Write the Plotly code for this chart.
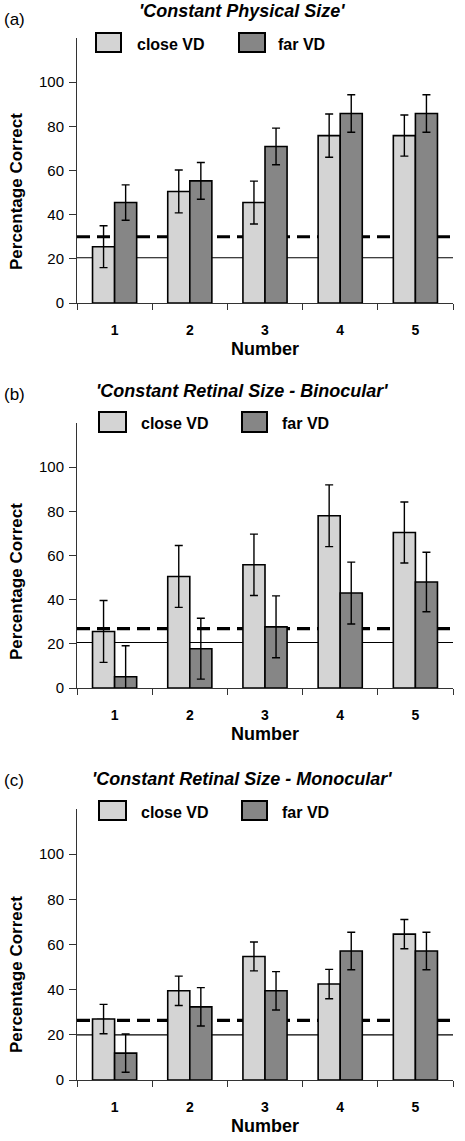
import plotly.graph_objects as go

# ---------------- data ----------------
numbers = ["1", "2", "3", "4", "5"]
series_names = ["close VD", "far VD"]
panel_labels = ["(a)", "(b)", "(c)"]
panel_titles = ["'Constant Physical Size'",
                "'Constant Retinal Size - Binocular'",
                "'Constant Retinal Size - Monocular'"]

a_close = [25.5, 50.5, 45.5, 75.8, 75.8]
a_close_err = [9.5, 9.7, 9.7, 9.8, 9.3]
a_far = [45.5, 55.3, 70.9, 85.8, 85.8]
a_far_err = [8.0, 8.3, 8.3, 8.5, 8.5]
a_dashed = 30.0
a_solid = 20.5

b_close = [25.6, 50.5, 55.8, 78.0, 70.4]
b_close_err = [14.0, 14.0, 13.9, 14.0, 13.8]
b_far = [5.1, 17.8, 27.7, 43.0, 48.0]
b_far_err = [14.0, 13.8, 14.0, 14.0, 13.5]
b_dashed = 26.9
b_solid = 20.6

c_close = [27.0, 39.5, 54.7, 42.5, 64.6]
c_close_err = [6.5, 6.5, 6.4, 6.5, 6.5]
c_far = [11.9, 32.4, 39.5, 57.1, 57.1]
c_far_err = [8.5, 8.5, 8.5, 8.3, 8.3]
c_dashed = 26.4
c_solid = 20.0

y_ticks = [0, 20, 40, 60, 80, 100]

# ---------------- style ----------------
W, H = 465, 1141
ML, MR, MT, MB = 77, 12, 38, 61
PW, PH = W - ML - MR, H - MT - MB
FONT = "Liberation Sans, Arial, sans-serif"
CLOSE_COL = "#d4d4d4"
FAR_COL = "#868686"


def px(x):
    return (x - ML) / PW


def py(y):
    return (H - MB - y) / PH


panels = [
    dict(close=a_close, close_err=a_close_err, far=a_far, far_err=a_far_err,
         dashed=a_dashed, solid=a_solid, top=38, bottom=303,
         title_y=11, label_y=19, leg_y=(33, 52), leg_x=(96, 121, 135, 239, 265, 276), ytitle_y=192),
    dict(close=b_close, close_err=b_close_err, far=b_far, far_err=b_far_err,
         dashed=b_dashed, solid=b_solid, top=423, bottom=688,
         title_y=391, label_y=394, leg_y=(412, 432), leg_x=(99, 126, 139, 242, 267, 280), ytitle_y=582),
    dict(close=c_close, close_err=c_close_err, far=c_far, far_err=c_far_err,
         dashed=c_dashed, solid=c_solid, top=809, bottom=1080,
         title_y=779, label_y=781, leg_y=(801, 820), leg_x=(99, 126, 139, 242, 267, 280), ytitle_y=975),
]

fig = go.Figure()
shapes = []
annotations = []
layout = {}

for i, p in enumerate(panels):
    sfx = "" if i == 0 else str(i + 1)
    xa, ya = "x" + sfx, "y" + sfx
    for name, vals, errs, col in [(series_names[0], p["close"], p["close_err"], CLOSE_COL),
                                  (series_names[1], p["far"], p["far_err"], FAR_COL)]:
        fig.add_trace(go.Bar(
            x=numbers, y=vals, name=name, xaxis=xa, yaxis=ya, showlegend=False,
            marker=dict(color=col, line=dict(color="black", width=1.6)),
            error_y=dict(type="data", array=errs, visible=True, color="black",
                         thickness=1.4, width=4),
        ))
    layout["xaxis" + sfx] = dict(
        domain=[0, 1], anchor=ya, type="category", range=[-0.5, 4.5],
        tickson="boundaries", ticks="outside", ticklen=6, tickcolor="#333",
        showline=True, linecolor="#333", linewidth=1, showgrid=False,
        tickfont=dict(family=FONT, size=14, color="black", weight="bold"),
        ticklabelstandoff=14,
        title=dict(text="Number", font=dict(family=FONT, size=18, color="black", weight="bold"),
                   standoff=5),
    )
    layout["yaxis" + sfx] = dict(
        domain=[py(p["bottom"]), py(p["top"])], anchor=xa, range=[0, 120],
        tickvals=y_ticks, ticks="outside", ticklen=7, tickcolor="#333",
        showline=True, linecolor="#333", linewidth=1, showgrid=False, zeroline=False,
        tickfont=dict(family=FONT, size=15, color="black"), ticklabelstandoff=2,
    )
    # reference lines (behind the bars)
    shapes.append(dict(type="line", xref=xa + " domain", yref=ya, x0=0, x1=1,
                       y0=p["dashed"], y1=p["dashed"], layer="below",
                       line=dict(color="black", width=3.2, dash="13px,7px")))
    shapes.append(dict(type="line", xref=xa + " domain", yref=ya, x0=0, x1=1,
                       y0=p["solid"], y1=p["solid"], layer="below",
                       line=dict(color="black", width=1.2)))
    # legend boxes and labels
    y0, y1 = p["leg_y"]
    bx0, bx1, tx, fx0, fx1, ftx = p["leg_x"]
    for (x0, x1, col) in [(bx0, bx1, CLOSE_COL), (fx0, fx1, FAR_COL)]:
        shapes.append(dict(type="rect", xref="paper", yref="paper",
                           x0=px(x0), x1=px(x1), y0=py(y1), y1=py(y0),
                           fillcolor=col, line=dict(color="black", width=2)))
    for (x, txt) in [(tx, series_names[0]), (ftx, series_names[1])]:
        annotations.append(dict(xref="paper", yref="paper", x=px(x), y=py((y0 + y1) / 2 + 2),
                                xanchor="left", yanchor="middle", showarrow=False, text=txt,
                                font=dict(family=FONT, size=16, color="black", weight="bold")))
    # panel label and title
    annotations.append(dict(xref="paper", yref="paper", x=px(2), y=py(p["label_y"]),
                            xanchor="left", yanchor="middle", showarrow=False,
                            text=panel_labels[i], font=dict(family=FONT, size=17, color="black")))
    annotations.append(dict(xref="paper", yref="paper", x=px(242), y=py(p["title_y"]),
                            xanchor="center", yanchor="middle", showarrow=False,
                            text="<i>" + panel_titles[i] + "</i>",
                            font=dict(family=FONT, size=18, color="black", weight="bold")))
    # y title
    annotations.append(dict(xref="paper", yref="paper", x=px(16), y=py(p["ytitle_y"]),
                            xanchor="center", yanchor="middle", showarrow=False, textangle=-90,
                            text="Percentage Correct",
                            font=dict(family=FONT, size=17, color="black", weight="bold")))

fig.update_layout(
    width=W, height=H, margin=dict(l=ML, r=MR, t=MT, b=MB, autoexpand=False),
    paper_bgcolor="white", plot_bgcolor="rgba(0,0,0,0)",
    barmode="group", bargap=0.413, bargroupgap=0,
    shapes=shapes, annotations=annotations, showlegend=False,
    font=dict(family=FONT, color="black"),
    **layout,
)

fig.write_html("out.html", config={"displayModeBar": False},
               post_script="document.body.style.margin='0px';")
